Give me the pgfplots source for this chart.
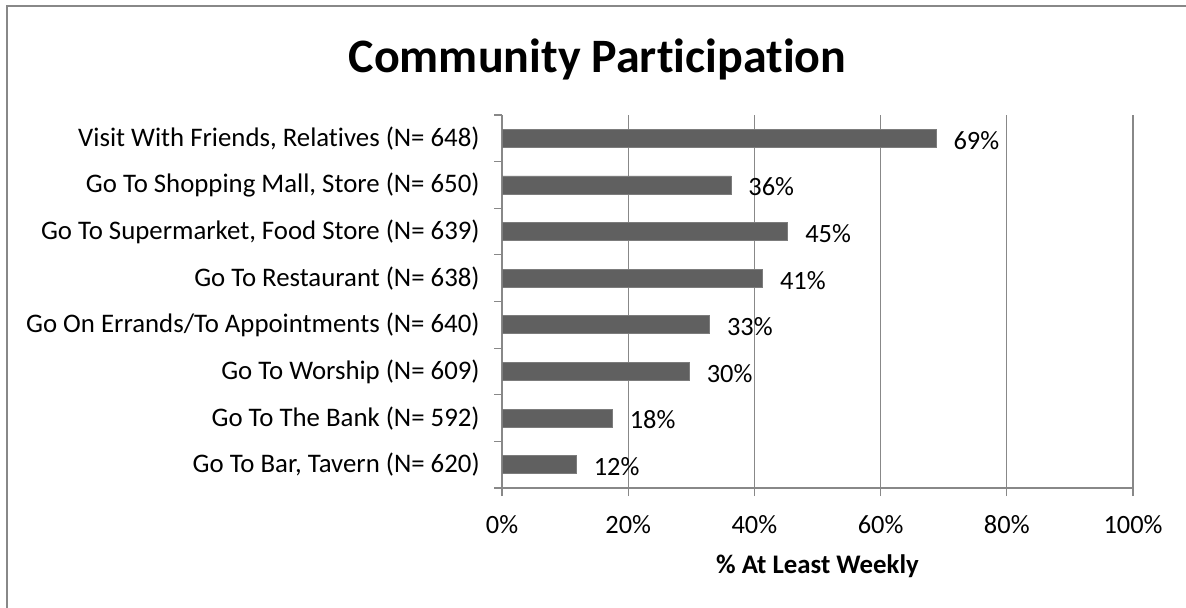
\documentclass[border=0pt]{standalone}
\usepackage{pgfplots}
\pgfplotsset{compat=1.18}
\usepackage{pgfplotstable}
\usepackage{fontspec}
\setmainfont{Carlito}[Ligatures=NoCommon]
\definecolor{bargray}{HTML}{606060}
\definecolor{barline}{HTML}{7C7C7C}
\definecolor{linegray}{HTML}{888888}
\pgfplotstableread{
y x lab
0 11.8 12
1 17.5 18
2 29.7 30
3 32.9 33
4 41.3 41
5 45.3 45
6 36.3 36
7 68.8 69
}\datatable
\begin{document}
\begin{tikzpicture}
\useasboundingbox (0pt,0pt) rectangle (593pt,-303.5pt);
\draw[linegray, line width=0.6pt] (3.5pt,-3pt) rectangle (610pt,-320pt);
\node[font=\bfseries\fontsize{24}{28}\selectfont, anchor=base, inner sep=0pt] at (298.75pt,-36pt) {Community Participation};
\begin{axis}[
  at={(251pt,-244pt)}, anchor=south west,
  scale only axis, width=315.5pt, height=186.5pt,
  xmin=0, xmax=100, ymin=-0.5, ymax=7.5,
  xbar, bar width=9pt,
  axis lines*=left,
  axis line style={linegray, line width=0.6pt},
  xtick pos=lower, ytick pos=lower,
  tick align=outside, major tick length=4pt,
  every tick/.style={linegray, line width=0.6pt},
  xmajorgrids, grid style={linegray, line width=0.6pt},
  xtick={0,20,40,60,80,100},
  xticklabels={0\%,20\%,40\%,60\%,80\%,100\%},
  ytick={-0.5,0.5,1.5,2.5,3.5,4.5,5.5,6.5,7.5},
  yticklabels={},
  extra y ticks={0,1,2,3,4,5,6,7},
  extra y tick labels={{Go To Bar, Tavern (N= 620)},{Go To The Bank (N= 592)},{Go To Worship (N= 609)},{Go On Errands/To Appointments (N= 640)},{Go To Restaurant (N= 638)},{Go To Supermarket, Food Store (N= 639)},{Go To Shopping Mall, Store (N= 650)},{Visit With Friends, Relatives (N= 648)}},
  extra y tick style={major tick length=0pt, grid=none},
  tick label style={font=\fontsize{13.2}{15}\selectfont, text=black},
  xticklabel style={anchor=center, inner sep=0pt, yshift=-14.5pt},
  yticklabel style={anchor=east, inner sep=0pt, xshift=-11pt, font=\fontsize{13.4}{15}\selectfont},
  xlabel={\bfseries\% At Least Weekly},
  xlabel style={at={(axis description cs:0.5,0)}, anchor=center, yshift=-39pt, font=\fontsize{13.4}{15}\selectfont},
  point meta=explicit,
  /pgf/number format/assume math mode=true,
  nodes near coords={\pgfmathprintnumber{\pgfplotspointmeta}\%},
  every node near coord/.style={anchor=west, inner sep=0pt, xshift=8.5pt, yshift=-1pt, font=\fontsize{13.2}{15}\selectfont, text=black},
  clip=false,
]
\addplot[fill=bargray, draw=barline, line width=0.4pt] table[x=x, y=y, meta=lab] {\datatable};
\end{axis}
\end{tikzpicture}
\end{document}
